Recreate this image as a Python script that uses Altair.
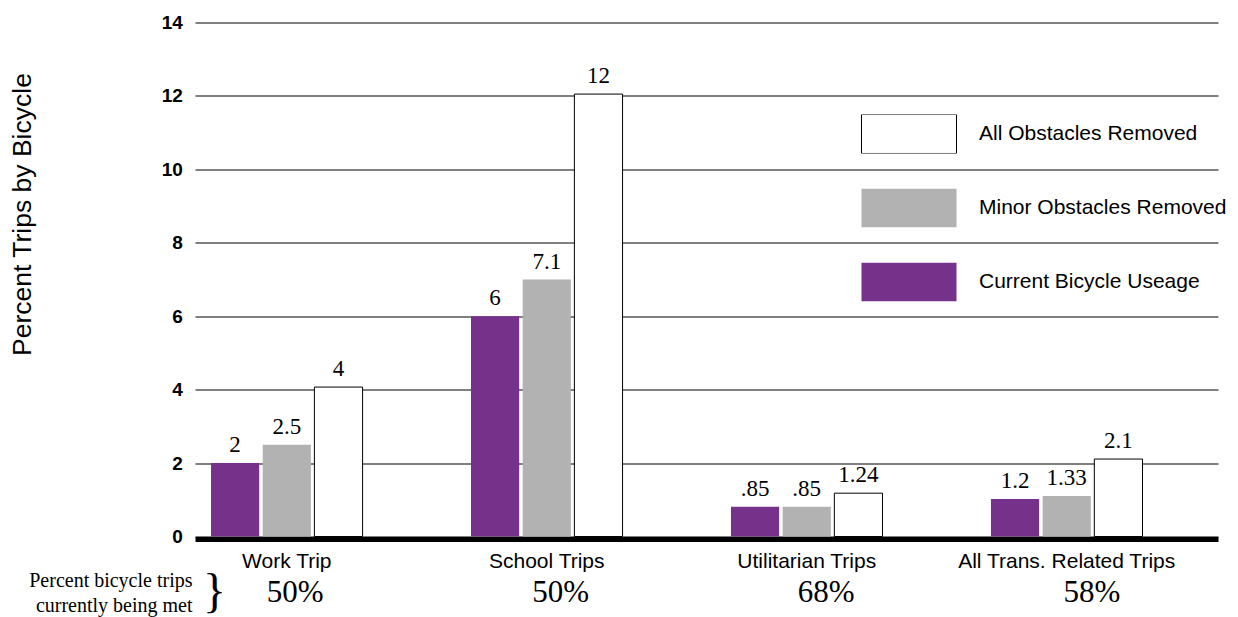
import altair as alt
import pandas as pd

# ---- data ----
categories = ["Work Trip", "School Trips", "Utilitarian Trips", "All Trans. Related Trips"]
series_names = ["Current Bicycle Useage", "Minor Obstacles Removed", "All Obstacles Removed"]
legend_order = ["All Obstacles Removed", "Minor Obstacles Removed", "Current Bicycle Useage"]

current_usage = [2.0, 6.0, 0.81, 1.02]
minor_removed = [2.5, 7.0, 0.81, 1.10]
all_removed = [4.07, 12.05, 1.18, 2.11]

current_labels = ["2", "6", ".85", "1.2"]
minor_labels = ["2.5", "7.1", ".85", "1.33"]
all_labels = ["4", "12", "1.24", "2.1"]

trips_met = ["50%", "50%", "68%", "58%"]
y_ticks = [0, 2, 4, 6, 8, 10, 12, 14]

fill_range = ["#ffffff", "#b2b2b2", "#76328a"]
stroke_range = ["#000000", "transparent", "transparent"]

# ---- tables ----
rows = []
for vals, labs, name in [(current_usage, current_labels, series_names[0]),
                         (minor_removed, minor_labels, series_names[1]),
                         (all_removed, all_labels, series_names[2])]:
    for c, v, l in zip(categories, vals, labs):
        rows.append({"category": c, "series": name, "value": v, "label": l})
df = pd.DataFrame(rows)
pct_df = pd.DataFrame({"category": categories, "pct": trips_met})

SANS = "Liberation Sans"
SERIF = "Liberation Serif"

cat_list = "[" + ",".join("'" + c + "'" for c in categories) + "]"
pct_list = "[" + ",".join("'" + p + "'" for p in trips_met) + "]"
pct_expr = f"{pct_list}[indexof({cat_list}, datum.value)]"

legend = alt.Legend(
    title=None, orient="none", legendX=666, legendY=92,
    symbolType="M-1,-0.41H1V0.41H-1Z", symbolSize=9025, clipHeight=39,
    rowPadding=35, labelFont=SANS, labelFontSize=21, labelColor="black",
    labelOffset=22, symbolStrokeWidth=1, padding=0, labelLimit=400,
)

x_main = alt.X(
    "category:N", sort=categories,
    scale=alt.Scale(paddingInner=0.417, paddingOuter=0.176, align=0.175),
    axis=alt.Axis(
        title="}", titleFont=SERIF, titleFontSize=48, titleFontWeight="normal",
        titleColor="black", titleX=19, titleY=67, titleAlign="center",
        titleBaseline="alphabetic",
        labelFont=SANS, labelFontSize=21, labelColor="black", labelAngle=0,
        labelPadding=28, labelBaseline="alphabetic", labelLimit=400,
        domainColor="black", domainWidth=5, offset=2.5,
        ticks=False, tickSize=0, grid=False,
    ),
)
x_offset = alt.XOffset("series:N", sort=series_names,
                       scale=alt.Scale(paddingInner=0.068, paddingOuter=0))

y_enc = alt.Y(
    "value:Q", scale=alt.Scale(domain=[0, 14], nice=False),
    axis=alt.Axis(
        values=y_ticks, format="d",
        title="Percent Trips by Bicycle", titleFont=SANS, titleFontSize=26.5,
        titleFontWeight="normal", titleColor="black", titleAngle=270,
        titleX=-173, titleY=191.5, titleAlign="center", titleBaseline="middle",
        labelFont=SANS, labelFontSize=19, labelFontWeight="bold", labelColor="black",
        labelPadding=12.7, ticks=False, domain=False,
        grid=True, gridColor="#000000", gridWidth=1.2,
    ),
)

bars = alt.Chart(df).mark_bar(strokeWidth=1).encode(
    x=x_main,
    xOffset=x_offset,
    y=y_enc,
    fill=alt.Fill("series:N", scale=alt.Scale(domain=legend_order, range=fill_range), legend=legend),
    stroke=alt.Stroke("series:N", scale=alt.Scale(domain=legend_order, range=stroke_range), legend=legend),
)

value_text = alt.Chart(df).mark_text(
    font=SERIF, fontSize=23, baseline="alphabetic", dy=-11, color="black"
).encode(
    x=alt.X("category:N", sort=categories),
    xOffset=alt.XOffset("series:N", sort=series_names),
    y=alt.Y("value:Q"),
    text="label:N",
)

pct_layer = alt.Chart(pct_df).mark_point(opacity=0).encode(
    x=alt.X(
        "category:N", sort=categories,
        scale=alt.Scale(type="point", padding=0.4259, align=0.44),
        axis=alt.Axis(
            orient="bottom", labelExpr=pct_expr,
            labelFont=SERIF, labelFontSize=31, labelColor="black", labelAngle=0,
            labelPadding=65, labelBaseline="alphabetic",
            title=["Percent bicycle trips", "currently being met"],
            titleFont=SERIF, titleFontSize=20, titleFontWeight="normal", titleColor="black",
            titleX=-3, titleY=50, titleAlign="right", titleBaseline="alphabetic",
            titleLineHeight=25,
            domain=False, ticks=False, tickSize=0, grid=False,
        ),
    ),
)

chart = alt.layer(alt.layer(bars, value_text), pct_layer).resolve_scale(
    x="independent"
).properties(
    width=1023, height=514,
    autosize=alt.AutoSizeParams(type="none"),
    padding={"left": 195, "top": 22.5, "right": 20, "bottom": 80.5},
    background="white",
).configure_view(strokeWidth=0)

chart.save("out.html", embed_options={"renderer": "svg", "actions": False})
